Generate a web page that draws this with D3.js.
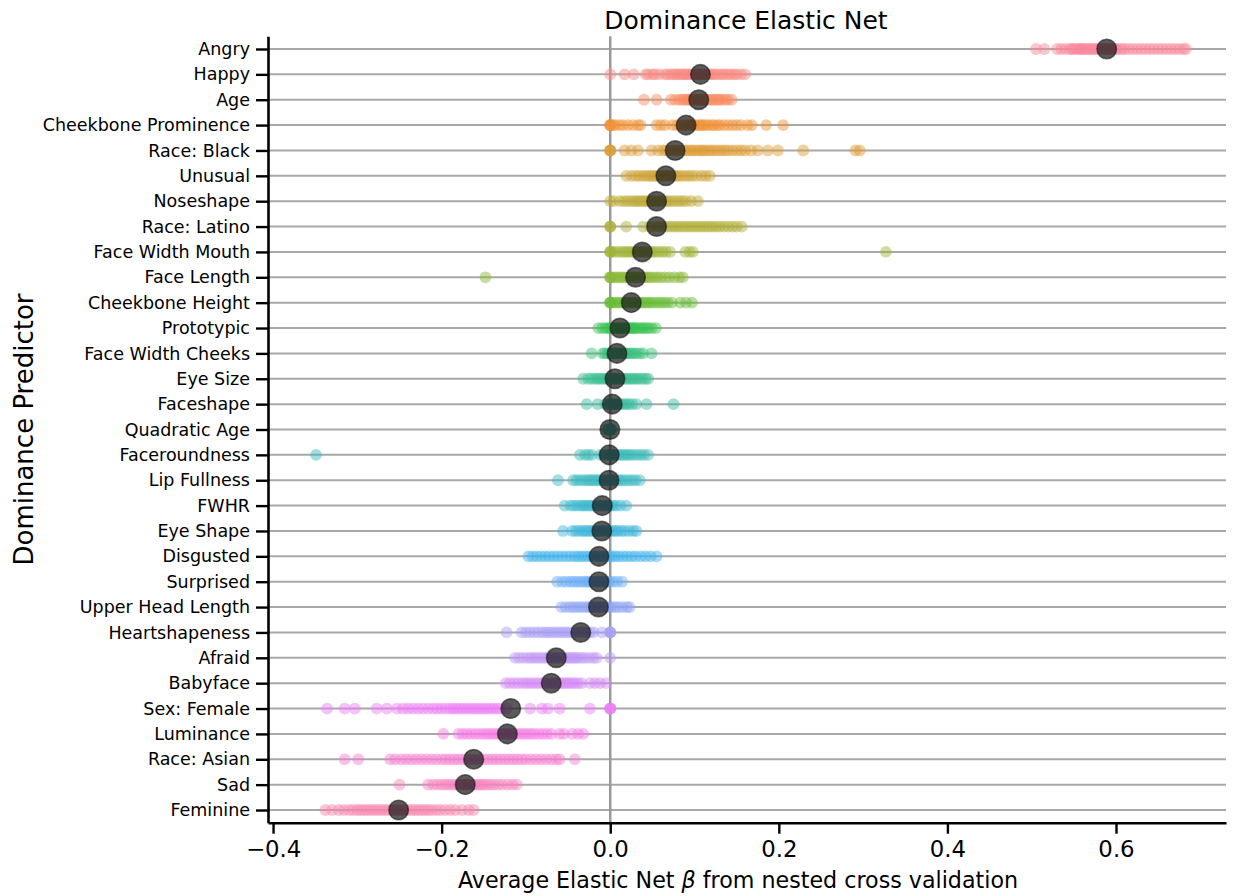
<!DOCTYPE html>
<html>
<head>
<meta charset="utf-8">
<script src="https://cdnjs.cloudflare.com/ajax/libs/d3/7.8.5/d3.min.js"></script>
<style>
body { margin: 0; background: #fff; }
text { font-family: "DejaVu Sans", sans-serif; fill: #000; }
</style>
</head>
<body>
<script>
// predictor names, top to bottom
var predictors = ["Angry", "Happy", "Age", "Cheekbone Prominence", "Race: Black", "Unusual",
    "Noseshape", "Race: Latino", "Face Width Mouth", "Face Length", "Cheekbone Height",
    "Prototypic", "Face Width Cheeks", "Eye Size", "Faceshape", "Quadratic Age",
    "Faceroundness", "Lip Fullness", "FWHR", "Eye Shape", "Disgusted", "Surprised",
    "Upper Head Length", "Heartshapeness", "Afraid", "Babyface", "Sex: Female",
    "Luminance", "Race: Asian", "Sad", "Feminine"];

// mean beta per predictor (big dark dots)
var meanBetas = [0.589, 0.107, 0.105, 0.090, 0.077, 0.066, 0.055, 0.055, 0.038, 0.030, 0.025,
    0.0115, 0.008, 0.0056, 0.0024, -0.0004, -0.0012, -0.0015, -0.0095, -0.010, -0.0134, -0.0134,
    -0.014, -0.035, -0.064, -0.070, -0.118, -0.122, -0.162, -0.172, -0.251];

// betas from each fold, per predictor
var angry = [0.505, 0.515, 0.53, 0.535, 0.54, 0.545, 0.548, 0.55, 0.553, 0.556, 0.558, 0.56, 0.562, 0.565, 0.567, 0.57, 0.572, 0.575, 0.577, 0.58, 0.582, 0.585, 0.588, 0.59, 0.593, 0.595, 0.598, 0.60, 0.603, 0.607, 0.61, 0.615, 0.62, 0.625, 0.63, 0.635, 0.64, 0.645, 0.65, 0.655, 0.66, 0.665, 0.67, 0.675, 0.68, 0.683];
var happy = [0.0, 0.017, 0.028, 0.042, 0.045, 0.05, 0.053, 0.058, 0.065, 0.068, 0.072, 0.075, 0.078, 0.08, 0.083, 0.086, 0.088, 0.09, 0.093, 0.095, 0.098, 0.1, 0.102, 0.105, 0.108, 0.11, 0.112, 0.115, 0.118, 0.12, 0.123, 0.126, 0.13, 0.133, 0.136, 0.14, 0.143, 0.147, 0.15, 0.155, 0.16];
var age = [0.04, 0.055, 0.072, 0.077, 0.082, 0.085, 0.088, 0.09, 0.093, 0.095, 0.097, 0.1, 0.102, 0.104, 0.106, 0.108, 0.11, 0.112, 0.115, 0.117, 0.12, 0.122, 0.125, 0.128, 0.13, 0.133, 0.137, 0.14, 0.144];
var cheekProm = [0, 0, 0, 0, 0.003, 0.006, 0.011, 0.015, 0.021, 0.027, 0.033, 0.036, 0.055, 0.06, 0.065, 0.074, 0.079, 0.083, 0.087, 0.09, 0.093, 0.096, 0.098, 0.1, 0.103, 0.106, 0.108, 0.11, 0.113, 0.116, 0.12, 0.123, 0.127, 0.13, 0.135, 0.14, 0.145, 0.15, 0.155, 0.163, 0.168, 0.185, 0.205];
var raceBlack = [0, 0, 0, 0, 0.017, 0.025, 0.033, 0.049, 0.057, 0.063, 0.067, 0.071, 0.075, 0.079, 0.083, 0.087, 0.09, 0.094, 0.097, 0.1, 0.104, 0.107, 0.11, 0.113, 0.117, 0.12, 0.124, 0.128, 0.132, 0.136, 0.14, 0.145, 0.15, 0.155, 0.16, 0.167, 0.175, 0.187, 0.199, 0.229, 0.291, 0.296];
var unusual = [0.019, 0.025, 0.03, 0.034, 0.038, 0.042, 0.045, 0.048, 0.051, 0.054, 0.057, 0.06, 0.063, 0.066, 0.069, 0.072, 0.075, 0.078, 0.081, 0.085, 0.089, 0.093, 0.097, 0.102, 0.108, 0.113, 0.118];
var noseshape = [0.0, 0.004, 0.011, 0.016, 0.02, 0.024, 0.028, 0.031, 0.034, 0.037, 0.04, 0.043, 0.046, 0.049, 0.052, 0.055, 0.058, 0.061, 0.064, 0.067, 0.07, 0.074, 0.078, 0.082, 0.086, 0.09, 0.096, 0.104];
var raceLatino = [0, 0, 0, 0.019, 0.039, 0.047, 0.052, 0.057, 0.062, 0.066, 0.07, 0.074, 0.078, 0.082, 0.086, 0.09, 0.094, 0.098, 0.102, 0.106, 0.11, 0.114, 0.118, 0.122, 0.126, 0.13, 0.135, 0.14, 0.145, 0.15, 0.156];
var faceWidthMouth = [0, 0, 0, 0.003, 0.007, 0.011, 0.015, 0.018, 0.021, 0.024, 0.027, 0.03, 0.033, 0.036, 0.039, 0.042, 0.045, 0.048, 0.051, 0.054, 0.058, 0.062, 0.066, 0.071, 0.089, 0.094, 0.098, 0.327];
var faceLength = [-0.148, 0, 0, 0, 0.003, 0.006, 0.009, 0.012, 0.015, 0.018, 0.021, 0.024, 0.027, 0.03, 0.033, 0.036, 0.039, 0.042, 0.045, 0.048, 0.052, 0.056, 0.06, 0.065, 0.07, 0.076, 0.082, 0.086];
var cheekHeight = [0, 0, 0, 0.003, 0.006, 0.009, 0.012, 0.015, 0.018, 0.021, 0.024, 0.027, 0.03, 0.033, 0.036, 0.039, 0.042, 0.045, 0.048, 0.052, 0.056, 0.06, 0.064, 0.068, 0.073, 0.083, 0.09, 0.097];
var prototypic = [-0.014, -0.009, -0.005, -0.002, 0, 0.002, 0.004, 0.006, 0.008, 0.01, 0.012, 0.014, 0.016, 0.018, 0.02, 0.022, 0.024, 0.026, 0.028, 0.03, 0.033, 0.036, 0.039, 0.042, 0.045, 0.049, 0.054];
var faceWidthCheeks = [-0.022, -0.009, -0.006, -0.003, 0, 0.002, 0.004, 0.006, 0.008, 0.01, 0.012, 0.014, 0.016, 0.018, 0.02, 0.022, 0.025, 0.028, 0.031, 0.035, 0.039, 0.049];
var eyeSize = [-0.032, -0.026, -0.022, -0.018, -0.015, -0.012, -0.009, -0.006, -0.003, 0, 0.002, 0.004, 0.006, 0.008, 0.01, 0.013, 0.016, 0.019, 0.022, 0.025, 0.028, 0.031, 0.034, 0.038, 0.042, 0.045];
var faceshape = [-0.028, -0.015, -0.006, -0.002, 0, 0, 0.002, 0.004, 0.006, 0.008, 0.01, 0.013, 0.016, 0.019, 0.022, 0.026, 0.031, 0.043, 0.075];
var quadraticAge = [-0.004, -0.003, -0.002, -0.001, 0, 0, 0, 0, 0.001, 0.002];
var faceroundness = [-0.349, -0.036, -0.03, -0.026, -0.022, -0.012, -0.008, -0.005, -0.002, 0, 0.002, 0.004, 0.006, 0.009, 0.012, 0.015, 0.018, 0.021, 0.024, 0.028, 0.032, 0.036, 0.04, 0.045];
var lipFullness = [-0.062, -0.044, -0.04, -0.036, -0.032, -0.028, -0.025, -0.022, -0.019, -0.016, -0.013, -0.01, -0.007, -0.004, -0.001, 0.002, 0.005, 0.008, 0.011, 0.014, 0.018, 0.022, 0.026, 0.03, 0.035];
var fwhr = [-0.054, -0.047, -0.043, -0.039, -0.035, -0.032, -0.029, -0.026, -0.023, -0.02, -0.017, -0.014, -0.011, -0.008, -0.005, -0.002, 0, 0.003, 0.007, 0.012, 0.019];
var eyeShape = [-0.056, -0.045, -0.041, -0.037, -0.033, -0.03, -0.027, -0.024, -0.021, -0.018, -0.015, -0.012, -0.009, -0.006, -0.003, 0, 0.003, 0.006, 0.009, 0.013, 0.017, 0.022, 0.027, 0.031];
var disgusted = [-0.097, -0.092, -0.087, -0.082, -0.077, -0.072, -0.067, -0.062, -0.057, -0.052, -0.047, -0.042, -0.038, -0.034, -0.03, -0.026, -0.022, -0.018, -0.014, -0.01, -0.006, -0.002, 0.002, 0.006, 0.01, 0.015, 0.02, 0.025, 0.03, 0.036, 0.042, 0.048, 0.055];
var surprised = [-0.063, -0.057, -0.052, -0.047, -0.043, -0.039, -0.035, -0.031, -0.028, -0.025, -0.022, -0.019, -0.016, -0.013, -0.01, -0.007, -0.004, -0.001, 0.003, 0.008, 0.014];
var upperHead = [-0.058, -0.053, -0.048, -0.044, -0.04, -0.036, -0.032, -0.028, -0.025, -0.022, -0.019, -0.016, -0.013, -0.01, -0.007, -0.004, -0.001, 0.002, 0.006, 0.01, 0.015, 0.02, 0.023];
var heartshapeness = [-0.123, -0.105, -0.1, -0.095, -0.09, -0.085, -0.08, -0.076, -0.072, -0.068, -0.064, -0.06, -0.056, -0.052, -0.048, -0.044, -0.04, -0.036, -0.032, -0.028, -0.024, -0.02, -0.01, 0, 0, 0, 0];
var afraid = [-0.113, -0.108, -0.103, -0.098, -0.094, -0.09, -0.086, -0.082, -0.078, -0.074, -0.071, -0.068, -0.065, -0.062, -0.059, -0.056, -0.053, -0.05, -0.047, -0.044, -0.041, -0.038, -0.034, -0.03, -0.025, -0.02, -0.016, 0];
var babyface = [-0.124, -0.119, -0.114, -0.109, -0.104, -0.1, -0.096, -0.092, -0.088, -0.084, -0.08, -0.076, -0.072, -0.069, -0.066, -0.063, -0.06, -0.057, -0.054, -0.051, -0.048, -0.045, -0.042, -0.038, -0.034, -0.024, -0.018, -0.012, -0.005];
var sexFemale = [-0.336, -0.315, -0.303, -0.277, -0.265, -0.253, -0.246, -0.24, -0.234, -0.228, -0.222, -0.216, -0.21, -0.205, -0.2, -0.195, -0.19, -0.186, -0.182, -0.178, -0.174, -0.17, -0.166, -0.162, -0.158, -0.154, -0.15, -0.146, -0.142, -0.138, -0.134, -0.13, -0.123, -0.095, -0.081, -0.074, -0.06, -0.024, 0, 0, 0, 0];
var luminance = [-0.198, -0.18, -0.175, -0.17, -0.165, -0.16, -0.155, -0.15, -0.146, -0.142, -0.138, -0.134, -0.13, -0.126, -0.122, -0.118, -0.114, -0.11, -0.106, -0.102, -0.098, -0.094, -0.09, -0.085, -0.08, -0.075, -0.07, -0.06, -0.055, -0.045, -0.038, -0.032];
var raceAsian = [-0.315, -0.299, -0.261, -0.255, -0.248, -0.242, -0.236, -0.23, -0.224, -0.218, -0.212, -0.206, -0.2, -0.195, -0.19, -0.185, -0.18, -0.175, -0.17, -0.165, -0.16, -0.155, -0.15, -0.145, -0.14, -0.135, -0.13, -0.125, -0.12, -0.115, -0.11, -0.105, -0.1, -0.094, -0.088, -0.082, -0.076, -0.07, -0.064, -0.06, -0.042];
var sad = [-0.25, -0.216, -0.21, -0.205, -0.2, -0.196, -0.192, -0.188, -0.184, -0.18, -0.177, -0.174, -0.171, -0.168, -0.165, -0.162, -0.159, -0.156, -0.153, -0.15, -0.146, -0.142, -0.138, -0.133, -0.128, -0.122, -0.116, -0.111];
var feminine = [-0.338, -0.33, -0.322, -0.316, -0.31, -0.305, -0.3, -0.296, -0.292, -0.288, -0.284, -0.28, -0.276, -0.272, -0.268, -0.264, -0.26, -0.256, -0.252, -0.248, -0.244, -0.24, -0.236, -0.232, -0.228, -0.224, -0.22, -0.216, -0.212, -0.207, -0.202, -0.196, -0.19, -0.184, -0.176, -0.168, -0.162];

var foldBetas = [angry, happy, age, cheekProm, raceBlack, unusual, noseshape, raceLatino,
    faceWidthMouth, faceLength, cheekHeight, prototypic, faceWidthCheeks, eyeSize, faceshape,
    quadraticAge, faceroundness, lipFullness, fwhr, eyeShape, disgusted, surprised, upperHead,
    heartshapeness, afraid, babyface, sexFemale, luminance, raceAsian, sad, feminine];

var xTicks = [-0.4, -0.2, 0.0, 0.2, 0.4, 0.6];

// seaborn husl palette (l=.7, s=.9)
var M = [[3.2406, -1.5372, -0.4986], [-0.9689, 1.8758, 0.0415], [0.0557, -0.2040, 1.0570]];
function maxChroma(L, H) {
    var hrad = H / 360 * 2 * Math.PI, sinH = Math.sin(hrad), cosH = Math.cos(hrad);
    var sub1 = Math.pow(L + 16, 3) / 1560896;
    var sub2 = sub1 > 0.008856 ? sub1 : L / 903.3;
    var result = Infinity;
    M.forEach(function (row) {
        var tp = (0.99915 * row[0] + 1.05122 * row[1] + 1.14460 * row[2]) * sub2;
        var rbottom = 0.86330 * row[2] - 0.17266 * row[1];
        var lbottom = 0.12949 * row[2] - 0.38848 * row[0];
        var bt = (rbottom * sinH + lbottom * cosH) * sub2;
        [0, 1].forEach(function (t) {
            var C = L * (tp - 1.05122 * t) / (bt + 0.17266 * sinH * t);
            if (C > 0 && C < result) result = C;
        });
    });
    return result;
}
function husl(h, s, l) {
    var C = maxChroma(l, h) / 100 * s;
    var hrad = h / 360 * 2 * Math.PI;
    var U = Math.cos(hrad) * C, V = Math.sin(hrad) * C;
    var t = (l + 16) / 116;
    var Y = Math.pow(t, 3) > 0.008856 ? Math.pow(t, 3) : (116 * t - 16) / 903.3;
    var varU = U / (13 * l) + 0.19784, varV = V / (13 * l) + 0.46834;
    var X = -(9 * Y * varU) / ((varU - 4) * varV - varU * varV);
    var Z = (9 * Y - 15 * varV * Y - varV * X) / (3 * varV);
    var rgb = M.map(function (row) {
        var c = row[0] * X + row[1] * Y + row[2] * Z;
        c = c <= 0.0031308 ? 12.92 * c : 1.055 * Math.pow(c, 1 / 2.4) - 0.055;
        return Math.round(Math.max(0, Math.min(1, c)) * 255);
    });
    return d3.rgb(rgb[0], rgb[1], rgb[2]).formatHex();
}
var nPred = predictors.length;
var colors = predictors.map(function (d, i) {
    var h = ((i / nPred + 0.01) % 1) * 359;
    return husl(h, 0.9 * 99, 0.7 * 99);
});

var W = 1239, H = 896;
var axLeft = 268, axRight = 1226, axTop = 36.3, axBottom = 822.7;

var svg = d3.select("body").append("svg")
    .attr("width", W)
    .attr("height", H);

svg.append("rect").attr("width", W).attr("height", H).attr("fill", "#fff");

var x = d3.scaleLinear()
    .domain([-0.406, 0.7305])
    .range([axLeft, axRight]);

var y = d3.scalePoint()
    .domain(predictors)
    .range([axTop, axBottom])
    .padding(0.5);

// horizontal guide line per predictor
svg.append("g").selectAll("line")
    .data(predictors).enter()
    .append("line")
    .attr("x1", axLeft).attr("x2", axRight)
    .attr("y1", function (d) { return y(d); })
    .attr("y2", function (d) { return y(d); })
    .attr("stroke", "#a8a8a8")
    .attr("stroke-width", 2);

// zero line
svg.append("line")
    .attr("x1", x(0)).attr("x2", x(0))
    .attr("y1", axTop).attr("y2", axBottom)
    .attr("stroke", "#9a9a9a")
    .attr("stroke-width", 2.5);

// fold points
var rows = svg.append("g").selectAll("g")
    .data(predictors).enter()
    .append("g")
    .attr("fill", function (d, i) { return colors[i]; });

rows.selectAll("circle")
    .data(function (d, i) { return foldBetas[i].map(function (v) { return {p: d, v: v}; }); })
    .enter()
    .append("circle")
    .attr("cx", function (d) { return x(d.v); })
    .attr("cy", function (d) { return y(d.p); })
    .attr("r", 5.9)
    .attr("fill-opacity", 0.48);

// means
svg.append("g").selectAll("circle")
    .data(predictors).enter()
    .append("circle")
    .attr("cx", function (d, i) { return x(meanBetas[i]); })
    .attr("cy", function (d) { return y(d); })
    .attr("r", 9.8)
    .attr("fill", "#1a1a1a")
    .attr("fill-opacity", 0.72)
    .attr("stroke", "#1a1a1a")
    .attr("stroke-opacity", 0.6)
    .attr("stroke-width", 1.5);

// axes
var gx = svg.append("g")
    .attr("transform", "translate(0," + axBottom + ")")
    .call(d3.axisBottom(x).tickValues(xTicks).tickFormat(d3.format(".1f")).tickSize(11).tickSizeOuter(0).tickPadding(7));
gx.selectAll("text").style("font-size", "22.8px");

var gy = svg.append("g")
    .attr("transform", "translate(" + axLeft + ",0)")
    .call(d3.axisLeft(y).tickSize(12).tickSizeOuter(0).tickPadding(6));
gy.selectAll("text").style("font-size", "17.5px");

svg.selectAll(".domain").attr("stroke", "#000").attr("stroke-width", 2.6);
svg.selectAll(".tick line").attr("stroke", "#000").attr("stroke-width", 2.4);

svg.append("text")
    .attr("x", 746)
    .attr("y", 29)
    .attr("text-anchor", "middle")
    .style("font-size", "25px")
    .text("Dominance Elastic Net");

var xl = svg.append("text")
    .attr("x", 738)
    .attr("y", 888)
    .attr("text-anchor", "middle")
    .style("font-size", "22.2px");
xl.append("tspan").text("Average Elastic Net ");
xl.append("tspan").style("font-style", "italic").text("β");
xl.append("tspan").text(" from nested cross validation");

svg.append("text")
    .attr("transform", "translate(33," + ((axTop + axBottom) / 2) + ") rotate(-90)")
    .attr("text-anchor", "middle")
    .style("font-size", "26px")
    .text("Dominance Predictor");
</script>
</body>
</html>
